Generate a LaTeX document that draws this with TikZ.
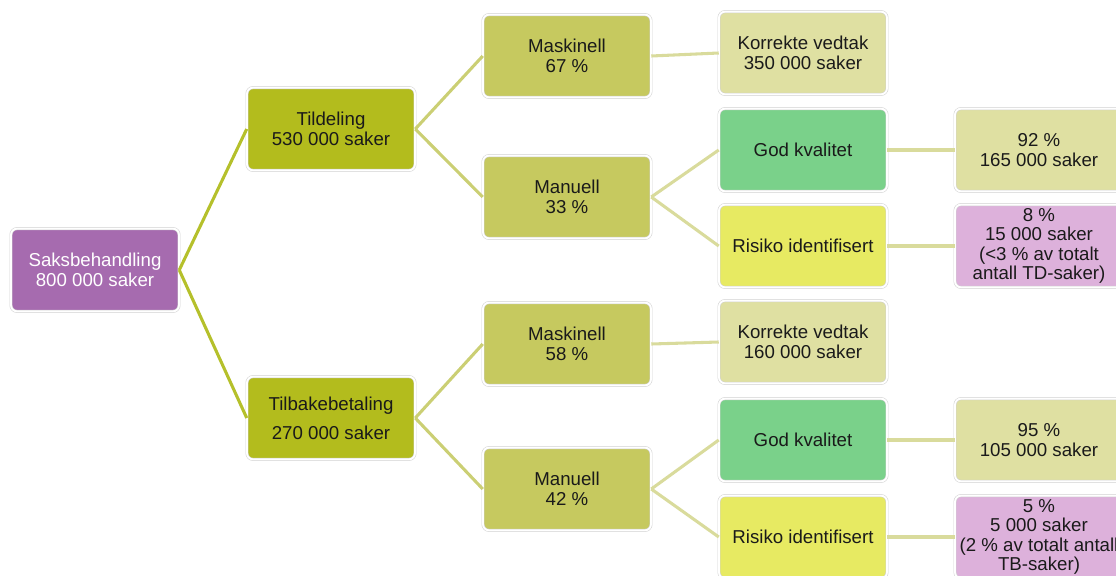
\documentclass[tikz,border=0pt]{standalone}
\usepackage{fontspec}
\setmainfont{Liberation Sans}
\definecolor{rootfill}{HTML}{A66BAF}
\definecolor{lvlonefill}{HTML}{B3BC1D}
\definecolor{lvltwofill}{HTML}{C6C95F}
\definecolor{palefill}{HTML}{DFE0A2}
\definecolor{goodfill}{HTML}{7AD18A}
\definecolor{riskfill}{HTML}{E7EA62}
\definecolor{lilacfill}{HTML}{DDB1DB}
\definecolor{linkdark}{HTML}{B5C02B}
\definecolor{linkmid}{HTML}{CBCF74}
\definecolor{linkpale}{HTML}{D9DB9C}
\definecolor{textdark}{HTML}{1A1A1A}

\begin{document}
\begin{tikzpicture}[x=0.75pt,y=0.75pt,yscale=-1,xscale=1,
  box/.style={rectangle,rounded corners=4.5pt,draw=black!18,double=white,
    double distance=1.4pt,line width=0.4pt,minimum width=126pt,
    minimum height=62pt,inner sep=2pt,align=center,text=textdark,
    font=\fontsize{14}{14.6}\selectfont},
  rootbox/.style={box,fill=rootfill,text=white},
  lvlone/.style={box,fill=lvlonefill},
  lvltwo/.style={box,fill=lvltwofill},
  palebox/.style={box,fill=palefill},
  goodbox/.style={box,fill=goodfill},
  riskbox/.style={box,fill=riskfill},
  lilacbox/.style={box,fill=lilacfill},
  linkroot/.style={draw=linkdark,line width=2.3pt},
  linkone/.style={draw=linkmid,line width=2.3pt},
  linktwo/.style={draw=linkpale,line width=2.3pt}]
\useasboundingbox (0,0) rectangle (1116,575);

% root
\node[rootbox] (root) at (95,270) {Saksbehandling\\800 000 saker};

% first level
\node[lvlone] (tild) at (331,129) {Tildeling\\530 000 saker};
\node[lvlone] (tilb) at (331,418) {Tilbakebetaling\\[7pt]270 000 saker};

% second level
\node[lvltwo] (maskA) at (567,56) {Maskinell\\67 \%};
\node[lvltwo] (manA) at (567,197) {Manuell\\33 \%};
\node[lvltwo] (maskB) at (567,344) {Maskinell\\58 \%};
\node[lvltwo] (manB) at (567,489) {Manuell\\42 \%};

% third level
\node[palebox] (korrA) at (803,53) {Korrekte vedtak\\350 000 saker};
\node[goodbox] (godA) at (803,150) {God kvalitet};
\node[riskbox] (risA) at (803,246) {Risiko identifisert};
\node[palebox] (korrB) at (803,342) {Korrekte vedtak\\160 000 saker};
\node[goodbox] (godB) at (803,440) {God kvalitet};
\node[riskbox] (risB) at (803,537) {Risiko identifisert};

% results
\node[palebox] (godAres) at (1039,150) {92 \%\\165 000 saker};
\node[lilacbox] (risAres) at (1039,246) {8 \%\\15 000 saker\\(<3 \% av totalt\\antall TD-saker)};
\node[palebox] (godBres) at (1039,440) {95 \%\\105 000 saker};
\node[lilacbox] (risBres) at (1039,537) {5 \%\\5 000 saker\\(2 \% av totalt antall\\TB-saker)};

% connectors
\draw[linkroot] (root.east) -- (tild.west);
\draw[linkroot] (root.east) -- (tilb.west);
\draw[linkone] (tild.east) -- (maskA.west);
\draw[linkone] (tild.east) -- (manA.west);
\draw[linkone] (tilb.east) -- (maskB.west);
\draw[linkone] (tilb.east) -- (manB.west);
\draw[linktwo] (maskA.east) -- (korrA.west);
\draw[linktwo] (manA.east) -- (godA.west);
\draw[linktwo] (manA.east) -- (risA.west);
\draw[linktwo] (maskB.east) -- (korrB.west);
\draw[linktwo] (manB.east) -- (godB.west);
\draw[linktwo] (manB.east) -- (risB.west);
\draw[linktwo] (godA.east) -- (godAres.west);
\draw[linktwo] (risA.east) -- (risAres.west);
\draw[linktwo] (godB.east) -- (godBres.west);
\draw[linktwo] (risB.east) -- (risBres.west);

\end{tikzpicture}
\end{document}
